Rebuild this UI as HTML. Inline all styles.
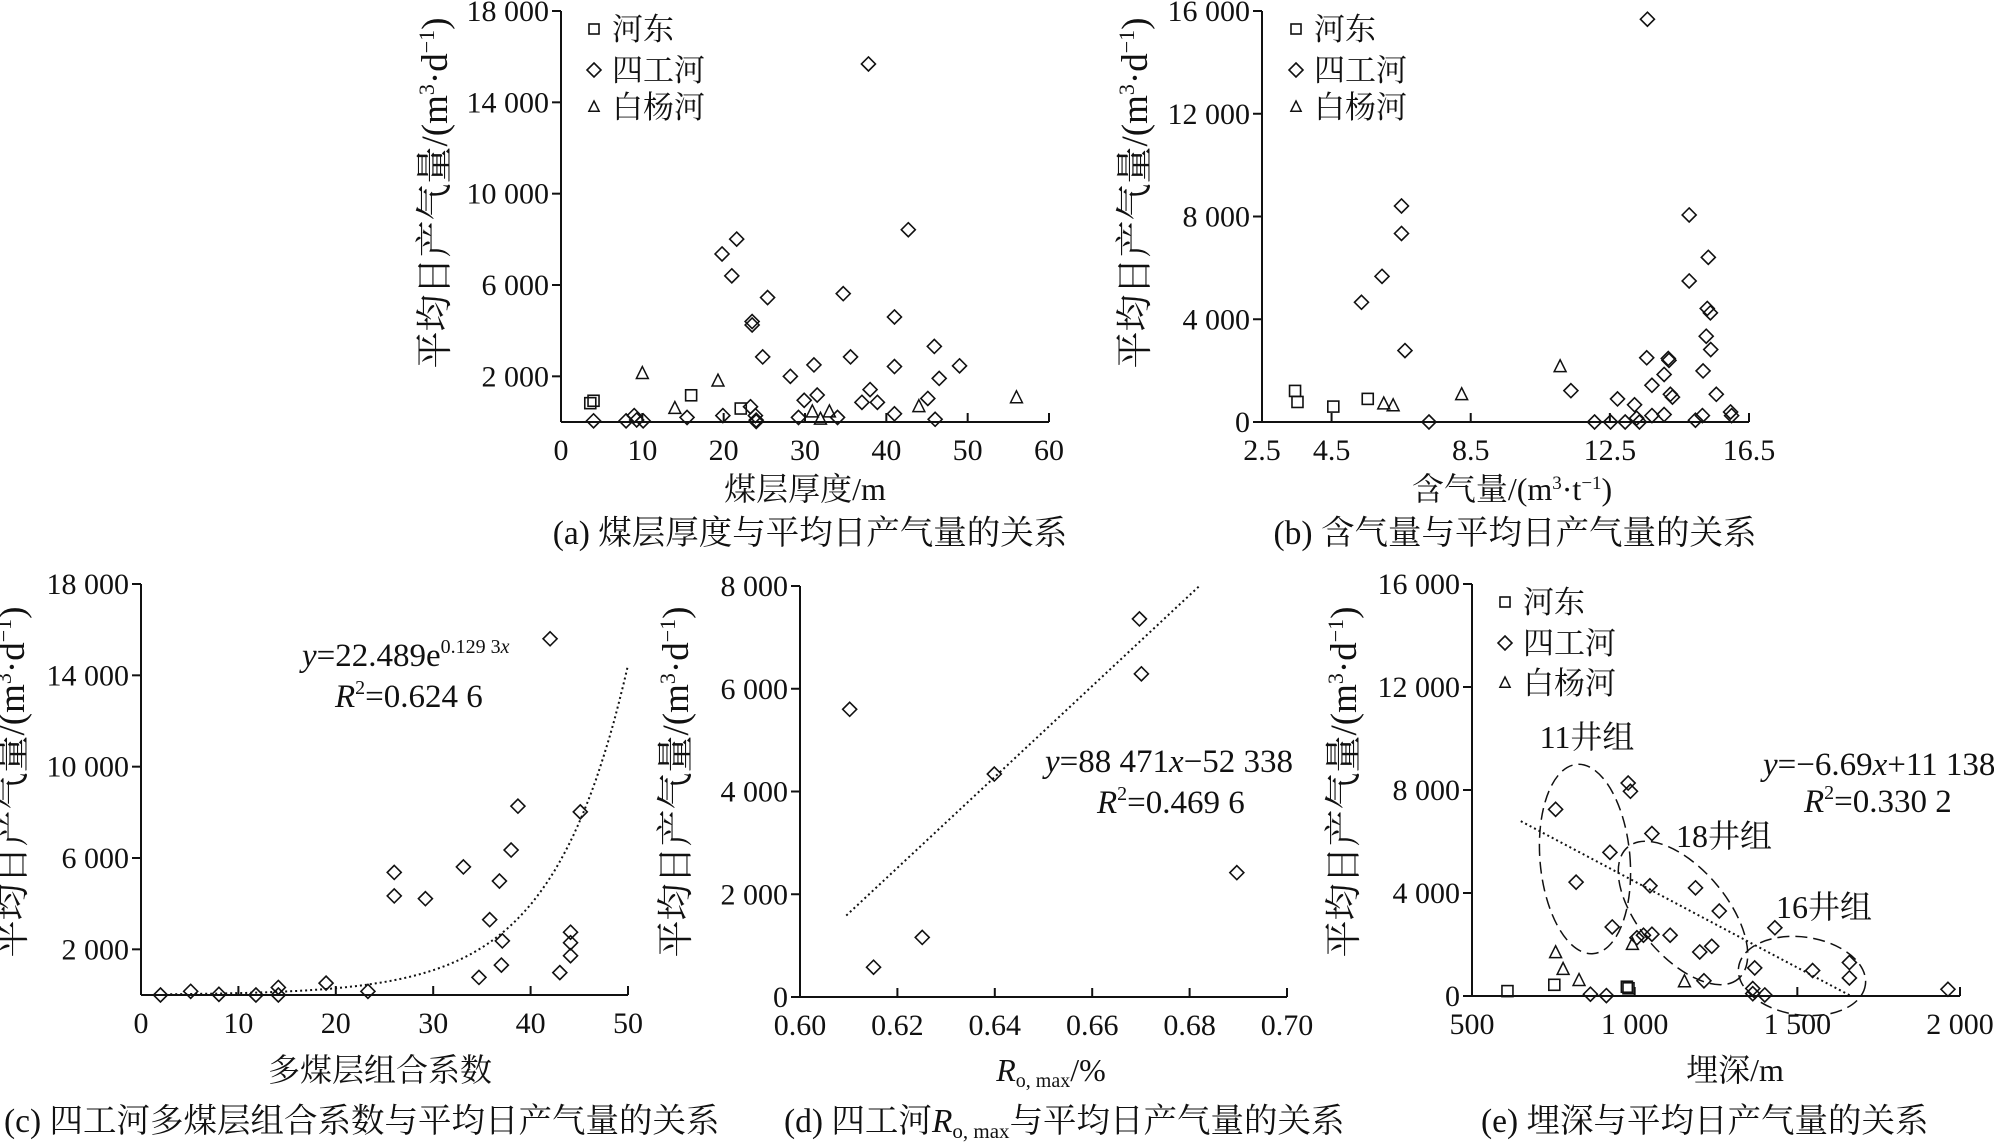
<!DOCTYPE html>
<html><head><meta charset="utf-8">
<style>
html,body{margin:0;padding:0;background:#fff;}
svg{display:block;}
text{font-family:"Liberation Serif","Noto Serif CJK SC",serif;fill:#111;}
</style></head>
<body>
<svg id="fig" width="1994" height="1146" viewBox="0 0 1994 1146" xmlns="http://www.w3.org/2000/svg"></svg>
<script>
// ---- chart (a) data: thickness vs gas ----
const aHeX=[3.6,4,16,22.1];
const aHeY=[825,930,1170,590];
const aSiX=[4,8,9,9.3,10.1,15.5,19.9,19.8,21.6,21,23.5,23.5,23.3,23.9,24,24,25.4,24.8,28.2,29.2,29.9,31.1,31.5,34,34.7,35.6,37,37.8,38,38.9,41,41,41,42.7,45.1,45.9,46,46.5,49];
const aSiY=[50,50,280,90,50,200,280,7360,8010,6400,4400,4250,670,280,80,20,5450,2850,2000,200,950,2500,1180,200,5620,2850,860,15680,1420,860,360,4600,2430,8420,1030,3310,120,1910,2460];
const aBaiX=[10,14,19.3,30.9,31.9,33,44,56];
const aBaiY=[2120,590,1790,440,120,440,670,1060];
const aXTicks=[0,10,20,30,40,50,60];
const aYTicks=[2000,6000,10000,14000,18000];
const aYLabels=["2 000","6 000","10 000","14 000","18 000"];
// ---- chart (b) data: gas content ----
const bHeX=[3.45,3.52,4.55,5.54];
const bHeY=[1210,780,600,900];
const bBaiX=[6.0,6.27,8.24,11.07];
const bBaiY=[700,630,1060,2150];
const bSiX=[5.36,5.95,6.51,6.51,6.61,7.3,11.38,12.06,12.52,12.72,12.94,13.21,13.27,13.35,13.58,13.56,13.71,13.71,14.06,14.06,14.18,14.2,14.24,14.3,14.78,14.78,14.96,15.16,15.18,15.27,15.33,15.3,15.39,15.4,15.56,15.97,16];
const bSiY=[4660,5670,8410,7340,2780,0,1220,0,0,900,0,670,150,0,15680,2500,1430,250,1850,290,2470,2400,1080,970,8060,5490,70,250,1990,3340,6410,4420,4250,2820,1080,390,250];
const bXTicks=[2.5,4.5,8.5,12.5,16.5];
const bYTicks=[0,4000,8000,12000,16000];
const bYLabels=["0","4 000","8 000","12 000","16 000"];
// ---- chart (c) data ----
const cX=[2,5.1,8,11.8,14.1,14.1,19,23.3,26,26,29.2,33.1,34.7,35.8,36.8,37.1,37,38,38.7,42,43,44.1,44.1,44.1,45.1];
const cY=[0,160,30,0,330,0,520,160,5370,4340,4220,5610,770,3300,4990,2370,1310,6350,8270,15600,980,2750,2290,1720,8020];
const cFit=[22.489,0.1293];
const cFitRange=[3,50];
const cXTicks=[0,10,20,30,40,50];
// ---- chart (d) data ----
const dX=[0.6102,0.6151,0.6251,0.6399,0.6697,0.6701,0.6897];
const dY=[5600,580,1160,4340,7360,6290,2420];
const dFit=[88471,-52338];
const dFitRange=[0.6095,0.682];
const dXTicks=[0.60,0.62,0.64,0.66,0.68,0.70];
const dYTicks=[0,2000,4000,6000,8000];
const dYLabels=["0","2 000","4 000","6 000","8 000"];
// ---- chart (e) data ----
const eHeX=[609,753,976,981];
const eHeY=[190,435,360,300];
const eBaiX=[757,780,829,993,1153];
const eBaiY=[1680,1030,600,2000,550];
const eSiX=[757,820,864,913,924,931,980,987,1007,1027,1053,1047,1053,1109,1187,1200,1213,1237,1260,1363,1363,1369,1400,1431,1547,1660,1660,1963];
const eSiY=[7250,4420,70,15,5580,2680,8270,7950,2260,2360,6310,4280,2400,2360,4200,1710,590,1930,3300,90,290,1090,40,2650,990,1300,700,260];
const eFit=[-6.69,11138];
const eFitRange=[650,1665];
const eXTicks=[500,1000,1500,2000];
const eXLabels=["500","1 000","1 500","2 000"];

const NS="http://www.w3.org/2000/svg";
const svg=document.getElementById('fig');
function mk(tag,attrs,parent){const e=document.createElementNS(NS,tag);for(const k in attrs)e.setAttribute(k,attrs[k]);(parent||svg).appendChild(e);return e;}
function lin(d0,d1,r0,r1){return v=>r0+(v-d0)*(r1-r0)/(d1-d0);}

function axes(g,x0,x1,y0,y1,xs,ys,xTicks,xLabels,yTicks,yLabels,name){
  const ax=mk('line',{x1:x0,y1:y0,x2:x1,y2:y0,stroke:'#111','stroke-width':2},g);
  
  
  const ay=mk('line',{x1:x0,y1:y0,x2:x0,y2:y1,stroke:'#111','stroke-width':2},g);
  
  
  xTicks.forEach((t,i)=>{
    const px=xs(t);
    mk('line',{x1:px,y1:y0,x2:px,y2:y0-9,stroke:'#111','stroke-width':2},g);
    const tx=mk('text',{x:px,y:y0+38,'text-anchor':'middle','font-size':30},g);
    tx.textContent=xLabels[i];
    
    
  });
  yTicks.forEach((t,i)=>{
    const py=ys(t);
    mk('line',{x1:x0,y1:py,x2:x0-9,y2:py,stroke:'#111','stroke-width':2},g);
    const tx=mk('text',{x:x0-12,y:py+10,'text-anchor':'end','font-size':30},g);
    tx.textContent=yLabels[i];
    
    
  });
}
function ytitle(g,cx,cy,name){
  const t=mk('text',{x:0,y:0,transform:`translate(${cx},${cy}) rotate(-90)`,'text-anchor':'middle','font-size':37},g);
  
  
  t.innerHTML='平均日产气量/(m<tspan dy="-13" font-size="22">3</tspan><tspan dy="13">·d</tspan><tspan dy="-13" font-size="22">−1</tspan><tspan dy="13">)</tspan>';
}
function txt(g,x,y,size,html,name,anchor){
  const t=mk('text',{x:x,y:y,'font-size':size,'text-anchor':anchor||'start'},g);
  t.innerHTML=html;
  
  
  return t;
}
function diamond(g,x,y,h){return mk('path',{d:`M${x},${y-h}L${x+h},${y}L${x},${y+h}L${x-h},${y}Z`,fill:'none',stroke:'#111','stroke-width':1.6},g);}
function square(g,x,y,h){return mk('rect',{x:x-h,y:y-h,width:2*h,height:2*h,fill:'none',stroke:'#111','stroke-width':1.6},g);}
function tri(g,x,y,h){return mk('path',{d:`M${x},${y-h}L${x+h*0.85},${y+h*0.7}L${x-h*0.85},${y+h*0.7}Z`,fill:'none',stroke:'#111','stroke-width':1.5},g);}
function series(g,X,Y,xs,ys,shape,name){
  X.forEach((v,i)=>{
    let m;
    if(shape==='d')m=diamond(g,xs(v),ys(Y[i]),7);
    else if(shape==='s')m=square(g,xs(v),ys(Y[i]),5.5);
    else m=tri(g,xs(v),ys(Y[i]),7);
    
    
  });
}
function legend(g,x,ys,name){
  const items=[['s','河东'],['d','四工河'],['t','白杨河']];
  items.forEach((it,i)=>{
    const y=ys[i];
    let m;
    if(it[0]==='s')m=square(g,x,y,5);else if(it[0]==='d')m=diamond(g,x,y,7);else m=tri(g,x,y,6);
    
    
    txt(g,x+18,y+11,31,it[1],name+'-legend-entry');
  });
}

// ===== Chart a =====
(function(){
  const g=mk('g',{});
  
  
  const xs=lin(0,60,561,1049), ys=lin(0,18000,422,11);
  axes(g,561,1049,422,11,xs,ys,aXTicks,aXTicks.map(String),aYTicks,aYLabels,'chart-a');
  series(g,aHeX,aHeY,xs,ys,'s','chart-a-hedong-point');
  series(g,aSiX,aSiY,xs,ys,'d','chart-a-sigonghe-point');
  series(g,aBaiX,aBaiY,xs,ys,'t','chart-a-baiyanghe-point');
  legend(g,594,[29,70,107],'chart-a');
  ytitle(g,447,193,'chart-a');
  txt(g,805,500,32,'煤层厚度/m','chart-a-x-axis-title','middle');
  txt(g,810,544,33.5,'(a) 煤层厚度与平均日产气量的关系','chart-a-caption','middle');
})();
// ===== Chart b =====
(function(){
  const g=mk('g',{});
  
  
  const xs=lin(2.5,16.5,1262,1749), ys=lin(0,16000,422,11);
  axes(g,1262,1749,422,11,xs,ys,bXTicks,bXTicks.map(v=>v.toFixed(1)),bYTicks,bYLabels,'chart-b');
  series(g,bHeX,bHeY,xs,ys,'s','chart-b-hedong-point');
  series(g,bSiX,bSiY,xs,ys,'d','chart-b-sigonghe-point');
  series(g,bBaiX,bBaiY,xs,ys,'t','chart-b-baiyanghe-point');
  legend(g,1296,[29,70,107],'chart-b');
  ytitle(g,1147,193,'chart-b');
  txt(g,1512,500,32,'含气量/(m<tspan dy="-11" font-size="19">3</tspan><tspan dy="11">·t</tspan><tspan dy="-11" font-size="19">−1</tspan><tspan dy="11">)</tspan>','chart-b-x-axis-title','middle');
  txt(g,1515,544,33.5,'(b) 含气量与平均日产气量的关系','chart-b-caption','middle');
})();
// ===== Chart c =====
(function(){
  const g=mk('g',{});
  
  
  const xs=lin(0,50,141,628), ys=lin(0,18000,995,584);
  axes(g,141,628,995,584,xs,ys,cXTicks,cXTicks.map(String),aYTicks,aYLabels,'chart-c');
  let d='';
  for(let i=0;i<=100;i++){const x=cFitRange[0]+(cFitRange[1]-cFitRange[0])*i/100;const y=cFit[0]*Math.exp(cFit[1]*x);d+=(i?'L':'M')+xs(x).toFixed(1)+','+ys(y).toFixed(1);}
  const fl=mk('path',{d:d,fill:'none',stroke:'#111','stroke-width':2,'stroke-dasharray':'2 3'},g);
  
  
  series(g,cX,cY,xs,ys,'d','chart-c-point');
  txt(g,302,666,33,'<tspan font-style="italic">y</tspan>=22.489e<tspan dy="-13" font-size="20">0.129 3<tspan font-style="italic">x</tspan></tspan>','chart-c-equation');
  txt(g,335,707,33,'<tspan font-style="italic">R</tspan><tspan dy="-13" font-size="20">2</tspan><tspan dy="13">=0.624 6</tspan>','chart-c-r-squared');
  ytitle(g,24,782,'chart-c');
  txt(g,380,1081,32,'多煤层组合系数','chart-c-x-axis-title','middle');
  txt(g,4,1132,33.5,'(c) 四工河多煤层组合系数与平均日产气量的关系','chart-c-caption');
})();
// ===== Chart d =====
(function(){
  const g=mk('g',{});
  
  
  const xs=lin(0.6,0.7,800,1287), ys=lin(0,8000,997,586);
  axes(g,800,1287,997,586,xs,ys,dXTicks,dXTicks.map(v=>v.toFixed(2)),dYTicks,dYLabels,'chart-d');
  const fl=mk('line',{x1:xs(dFitRange[0]),y1:ys(dFit[0]*dFitRange[0]+dFit[1]),x2:xs(dFitRange[1]),y2:ys(dFit[0]*dFitRange[1]+dFit[1]),stroke:'#111','stroke-width':2,'stroke-dasharray':'2 3'},g);
  
  
  series(g,dX,dY,xs,ys,'d','chart-d-point');
  txt(g,1045,772,33,'<tspan font-style="italic">y</tspan>=88 471<tspan font-style="italic">x</tspan>−52 338','chart-d-equation');
  txt(g,1097,813,33,'<tspan font-style="italic">R</tspan><tspan dy="-13" font-size="20">2</tspan><tspan dy="13">=0.469 6</tspan>','chart-d-r-squared');
  ytitle(g,688,782,'chart-d');
  txt(g,1051,1081,32,'<tspan font-style="italic">R</tspan><tspan font-size="20" dy="6">o, max</tspan><tspan dy="-6">/%</tspan>','chart-d-x-axis-title','middle');
  txt(g,784,1132,33.5,'(d) 四工河<tspan font-style="italic">R</tspan><tspan font-size="21" dy="6">o, max</tspan><tspan dy="-6">与平均日产气量的关系</tspan>','chart-d-caption');
})();
// ===== Chart e =====
(function(){
  const g=mk('g',{});
  
  
  const xs=lin(500,2000,1472,1960), ys=lin(0,16000,996,584);
  axes(g,1472,1960,996,584,xs,ys,eXTicks,eXLabels,bYTicks,bYLabels,'chart-e');
  const fl=mk('line',{x1:xs(eFitRange[0]),y1:ys(eFit[0]*eFitRange[0]+eFit[1]),x2:xs(eFitRange[1]),y2:ys(eFit[0]*eFitRange[1]+eFit[1]),stroke:'#111','stroke-width':2,'stroke-dasharray':'2 3'},g);
  
  
  const e1=mk('ellipse',{cx:1585,cy:859,rx:45,ry:95,transform:'rotate(-5 1585 859)',fill:'none',stroke:'#111','stroke-width':1.5,'stroke-dasharray':'12 6'},g);
  
  
  const e2=mk('ellipse',{cx:1683,cy:913,rx:86,ry:44,transform:'rotate(50 1683 913)',fill:'none',stroke:'#111','stroke-width':1.5,'stroke-dasharray':'12 6'},g);
  
  
  const e3=mk('ellipse',{cx:1802,cy:976,rx:64,ry:39,transform:'rotate(8 1802 976)',fill:'none',stroke:'#111','stroke-width':1.5,'stroke-dasharray':'12 6'},g);
  
  
  series(g,eHeX,eHeY,xs,ys,'s','chart-e-hedong-point');
  series(g,eSiX,eSiY,xs,ys,'d','chart-e-sigonghe-point');
  series(g,eBaiX,eBaiY,xs,ys,'t','chart-e-baiyanghe-point');
  legend(g,1505,[602,643,683],'chart-e');
  txt(g,1587,748,32,'11井组','label-11-well-group','middle');
  txt(g,1724,847,32,'18井组','label-18-well-group','middle');
  txt(g,1824,918,32,'16井组','label-16-well-group','middle');
  txt(g,1763,775,33,'<tspan font-style="italic">y</tspan>=−6.69<tspan font-style="italic">x</tspan>+11 138','chart-e-equation');
  txt(g,1804,812,33,'<tspan font-style="italic">R</tspan><tspan dy="-13" font-size="20">2</tspan><tspan dy="13">=0.330 2</tspan>','chart-e-r-squared');
  ytitle(g,1356,782,'chart-e');
  txt(g,1735,1081,32,'埋深/m','chart-e-x-axis-title','middle');
  txt(g,1481,1132,33.5,'(e) 埋深与平均日产气量的关系','chart-e-caption');
})();
</script>
</body></html>
